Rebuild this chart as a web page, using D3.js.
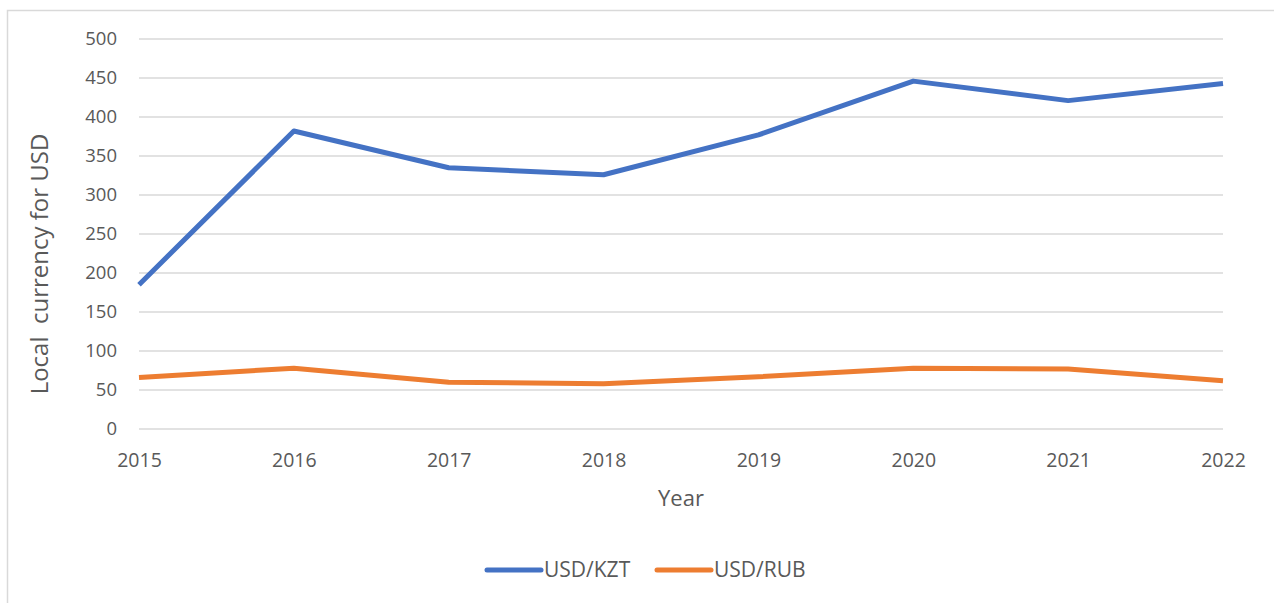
<!DOCTYPE html>
<html>
<head>
<meta charset="utf-8">
<script src="https://cdn.jsdelivr.net/npm/d3@7"></script>
<style>
  body { margin: 0; background: #fff; }
  svg { display: block; font-family: "Open Sans", sans-serif; }
</style>
</head>
<body>
<svg></svg>
<script>
var WIDTH = 1274;
var HEIGHT = 603;

var years = [2015, 2016, 2017, 2018, 2019, 2020, 2021, 2022];
var kzt = [185, 382, 335, 326, 377, 446, 421, 443];
var rub = [66, 78, 60, 58, 67, 78, 77, 62];
var yTicks = [0, 50, 100, 150, 200, 250, 300, 350, 400, 450, 500];
var seriesNames = ['USD/KZT', 'USD/RUB'];
var colors = ['#4472C4', '#ED7D31'];

var svg = d3.select('svg')
  .attr('width', WIDTH)
  .attr('height', HEIGHT);

// chart border
svg.append('rect')
  .attr('x', 7.5).attr('y', 10.5)
  .attr('width', 1300).attr('height', 700)
  .attr('fill', 'none')
  .attr('stroke', '#D9D9D9')
  .attr('stroke-width', 1.5);

var xScale = d3.scaleLinear().domain([2015, 2022]).range([139, 1223]);
var yScale = d3.scaleLinear().domain([0, 500]).range([429, 39]);

// gridlines
svg.append('g').selectAll('line')
  .data(yTicks)
  .enter()
  .append('line')
  .attr('x1', 139).attr('x2', 1223)
  .attr('y1', function(d){ return yScale(d); })
  .attr('y2', function(d){ return yScale(d); })
  .attr('stroke', '#D9D9D9')
  .attr('stroke-width', 1.5);

// y axis labels
var yAxis = d3.axisLeft(yScale).tickValues(yTicks).tickSize(0).tickPadding(22);
var gy = svg.append('g').attr('transform', 'translate(139,0)').call(yAxis);
gy.select('.domain').remove();
gy.selectAll('text').attr('fill', '#595959').style('font-size', '18.5px').style('font-family', '"Open Sans", sans-serif');

// x axis labels
var xAxis = d3.axisBottom(xScale).tickValues(years).tickFormat(d3.format('d')).tickSize(0).tickPadding(24);
var gx = svg.append('g').attr('transform', 'translate(0,429)').call(xAxis);
gx.select('.domain').remove();
gx.selectAll('text').attr('fill', '#595959').style('font-size', '19.5px').style('font-family', '"Open Sans", sans-serif');

// lines
var line = d3.line()
  .x(function(d, i){ return xScale(years[i]); })
  .y(function(d){ return yScale(d); });

[kzt, rub].forEach(function(series, i){
  svg.append('path')
    .datum(series)
    .attr('d', line)
    .attr('fill', 'none')
    .attr('stroke', colors[i])
    .attr('stroke-width', 5)
    .attr('stroke-linejoin', 'round');
});

// axis titles
svg.append('text')
  .attr('x', 681).attr('y', 506)
  .attr('text-anchor', 'middle')
  .attr('fill', '#595959')
  .style('font-size', '22px')
  .text('Year');

svg.append('text')
  .attr('transform', 'translate(48,264) rotate(-90)')
  .attr('text-anchor', 'middle')
  .attr('fill', '#595959')
  .style('font-size', '24px')
  .style('white-space', 'pre')
  .attr('xml:space', 'preserve')
  .text('Local  currency for USD');

// legend
var legend = svg.append('g').selectAll('g')
  .data(seriesNames)
  .enter()
  .append('g')
  .attr('transform', function(d, i){ return 'translate(' + (487 + i * 170) + ',570)'; });

legend.append('line')
  .attr('x1', 0).attr('x2', 54)
  .attr('stroke', function(d, i){ return colors[i]; })
  .attr('stroke-width', 5)
  .attr('stroke-linecap', 'round');

legend.append('text')
  .attr('x', 57).attr('y', 7)
  .attr('fill', '#595959')
  .style('font-size', '21px')
  .text(function(d){ return d; });
</script>
</body>
</html>
